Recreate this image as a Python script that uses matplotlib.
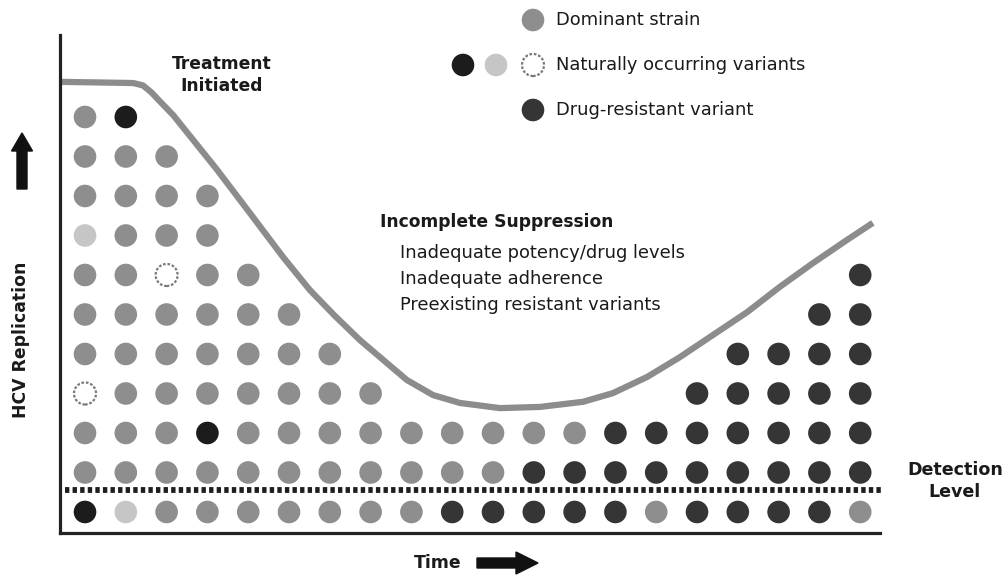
import matplotlib
matplotlib.use("Agg")
import matplotlib.pyplot as plt
from matplotlib.patches import FancyArrow

# ---------------- data ----------------
# dot grid: rows from top (level 10) down to level 0 (below detection level)
# g = dominant strain, k = natural variant (dark), l = natural variant (light),
# o = natural variant (open), r = drug-resistant variant, . = none
grid_rows = [
    "gk..................",
    "ggg.................",
    "gggg................",
    "lggg................",
    "ggogg..............r",
    "gggggg............rr",
    "ggggggg.........rrrr",
    "oggggggg.......rrrrr",
    "gggkgggggggggrrrrrrr",
    "gggggggggggrrrrrrrrr",
    "klgggggggrrrrrgrrrrg",
]
top_level = 10

# replication curve (time, level)
curve_time = [-0.61, 1.18, 1.42, 1.63, 1.85, 2.16, 3.24, 4.04, 4.85, 5.51, 6.13,
              6.74, 7.40, 7.89, 8.53, 9.19, 10.17, 11.15, 12.21, 12.94, 13.78,
              14.58, 15.39, 16.23, 17.03, 17.84, 18.68, 19.31]
curve_level = [10.89, 10.86, 10.80, 10.62, 10.38, 10.05, 8.66, 7.57, 6.46, 5.62, 4.96,
               4.35, 3.77, 3.34, 2.96, 2.76, 2.63, 2.66, 2.79, 3.01, 3.42,
               3.92, 4.48, 5.06, 5.70, 6.30, 6.89, 7.32]

detection_level = 0.56

legend_labels = ["Dominant strain", "Naturally occurring variants", "Drug-resistant variant"]
suppression_title = "Incomplete Suppression"
suppression_items = ["Inadequate potency/drug levels", "Inadequate adherence",
                     "Preexisting resistant variants"]

# ---------------- style ----------------
C_DOM = "#8e8e8e"
C_NAT_DARK = "#1c1c1c"
C_NAT_LIGHT = "#c6c6c6"
C_RES = "#353535"
C_OPEN_EDGE = "#7a7a7a"
C_CURVE = "#8c8c8c"
DOT_S = 265

W, H = 1008, 581
fig = plt.figure(figsize=(W / 100, H / 100), dpi=100)
fig.patch.set_facecolor("white")

# main axes (pixel box 60..880 x 35..533)
ax = fig.add_axes([60 / W, 1 - 533 / H, 820 / W, 498 / H])
ax.set_xlim(-0.613, 19.485)
ax.set_ylim(-0.532, 12.076)
for s in ["top", "right"]:
    ax.spines[s].set_visible(False)
for s in ["left", "bottom"]:
    ax.spines[s].set_linewidth(2.3)
    ax.spines[s].set_color("#222222")
ax.set_xticks([])
ax.set_yticks([])
ax.patch.set_alpha(0)

# collect dots
fills = {"g": C_DOM, "k": C_NAT_DARK, "l": C_NAT_LIGHT, "r": C_RES}
pts = {k: ([], []) for k in "gklro"}
for i, row in enumerate(grid_rows):
    level = top_level - i
    for col, ch in enumerate(row):
        if ch in pts:
            pts[ch][0].append(col)
            pts[ch][1].append(level)

for k, fc in fills.items():
    xs, ys = pts[k]
    ax.scatter(xs, ys, s=DOT_S, c=fc, edgecolors="none", zorder=3, clip_on=False)
xs, ys = pts["o"]
ax.scatter(xs, ys, s=DOT_S * 0.95, facecolors="white", edgecolors=C_OPEN_EDGE,
           linewidths=1.6, linestyles=(0, (1.2, 0.8)), zorder=3, clip_on=False)

# curve
ax.plot(curve_time, curve_level, color=C_CURVE, lw=4.5, solid_capstyle="butt",
        solid_joinstyle="round", zorder=2, clip_on=False)

# detection line
ax.axhline(detection_level, xmin=0.006, xmax=1.003, color="#1e1e1e", lw=4.2,
           dashes=(0.75, 0.55), zorder=2, clip_on=False)

# ---------------- overlay (annotations, pixel coordinates) ----------------
ov = fig.add_axes([0, 0, 1, 1])
ov.set_xlim(0, W)
ov.set_ylim(H, 0)
ov.axis("off")
ov.patch.set_alpha(0)

# legend
leg_x = 533
leg_y = [20, 65, 110]
ov.scatter([leg_x], [leg_y[0]], s=DOT_S, c=C_DOM, edgecolors="none")
ov.scatter([463], [leg_y[1]], s=DOT_S, c=C_NAT_DARK, edgecolors="none")
ov.scatter([496], [leg_y[1]], s=DOT_S, c=C_NAT_LIGHT, edgecolors="none")
ov.scatter([leg_x], [leg_y[1]], s=DOT_S * 0.95, facecolors="white", edgecolors=C_OPEN_EDGE,
           linewidths=1.6, linestyles=(0, (1.2, 0.8)))
ov.scatter([leg_x], [leg_y[2]], s=DOT_S, c=C_RES, edgecolors="none")
for lab, y in zip(legend_labels, leg_y):
    ov.text(556, y, lab, fontsize=12.9, ha="left", va="center", color="#1a1a1a")

# annotations
ov.text(222, 75, "Treatment\nInitiated", fontsize=12.3, fontweight="bold", ha="center",
        va="center", linespacing=1.35, color="#1a1a1a")
ov.text(380, 222, suppression_title, fontsize=12.3, fontweight="bold", ha="left",
        va="center", color="#1a1a1a")
for txt, y in zip(suppression_items, [253, 279, 305]):
    ov.text(400, y, txt, fontsize=12.9, ha="left", va="center", color="#1a1a1a")

ov.text(21, 340, "HCV Replication", fontsize=12.4, fontweight="bold", rotation=90,
        ha="center", va="center", color="#1a1a1a")
ov.text(438, 563, "Time", fontsize=12.4, fontweight="bold", ha="center", va="center",
        color="#1a1a1a")
ov.text(955, 481, "Detection\nLevel", fontsize=12.6, fontweight="bold", ha="center",
        va="center", linespacing=1.3, color="#1a1a1a")

# arrows
ov.add_patch(FancyArrow(22, 189, 0, -56, width=10, head_width=21, head_length=18,
                        length_includes_head=True, color="#111111"))
ov.add_patch(FancyArrow(477, 563, 61, 0, width=10, head_width=22, head_length=22,
                        length_includes_head=True, color="#111111"))

fig.savefig("out.png", dpi=100, facecolor="white")
